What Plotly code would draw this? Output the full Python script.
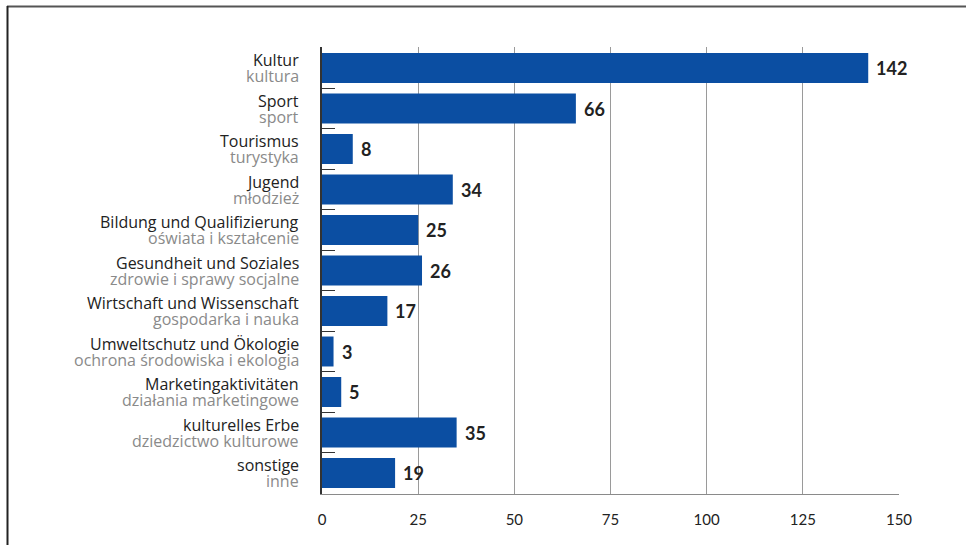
import plotly.graph_objects as go

categories_de = ["Kultur", "Sport", "Tourismus", "Jugend", "Bildung und Qualifizierung",
                 "Gesundheit und Soziales", "Wirtschaft und Wissenschaft",
                 "Umweltschutz und Ökologie", "Marketingaktivitäten",
                 "kulturelles Erbe", "sonstige"]
categories_pl = ["kultura", "sport", "turystyka", "młodzież", "oświata i kształcenie",
                 "zdrowie i sprawy socjalne", "gospodarka i nauka",
                 "ochrona środowiska i ekologia", "działania marketingowe",
                 "dziedzictwo kulturowe", "inne"]
values = [142, 66, 8, 34, 25, 26, 17, 3, 5, 35, 19]
x_ticks = [0, 25, 50, 75, 100, 125, 150]

FONT = "Lato"
LABEL_FONT = "Open Sans"
BLUE = "#0b4ea2"
L, R, T, B = 322, 67, 47, 51
PW, PH = 966 - L - R, 545 - T - B

fig = go.Figure(go.Bar(
    x=values, y=categories_de, orientation="h",
    marker=dict(color=BLUE, line=dict(width=0)),
    hoverinfo="x+y",
))

annotations = []
for de, pl, v in zip(categories_de, categories_pl, values):
    annotations.append(dict(xref="paper", yref="y", x=0, y=de, text=de,
                            xanchor="right", yanchor="middle", xshift=-21, yshift=8,
                            showarrow=False,
                            font=dict(family=LABEL_FONT, size=16, color="#222222")))
    annotations.append(dict(xref="paper", yref="y", x=0, y=de, text=pl,
                            xanchor="right", yanchor="middle", xshift=-21, yshift=-8,
                            showarrow=False,
                            font=dict(family=LABEL_FONT, size=16, color="#8a8a8a")))
    annotations.append(dict(xref="x", yref="y", x=v, y=de, text=str(v),
                            xanchor="left", yanchor="middle", xshift=6, yshift=0,
                            showarrow=False,
                            font=dict(family=FONT, size=18, color="#222222", weight="bold")))

fig.update_layout(
    width=966, height=545,
    margin=dict(l=L, r=R, t=T, b=B),
    paper_bgcolor="white", plot_bgcolor="white",
    bargap=0.26,
    showlegend=False,
    font=dict(family=FONT, color="#222222"),
    xaxis=dict(range=[0, 150], tickvals=x_ticks, ticktext=[str(t) for t in x_ticks],
               showgrid=True, gridcolor="#9a9a9a", gridwidth=1,
               showline=True, linecolor="#8a8a8a", linewidth=1,
               zeroline=False, ticks="", ticklabelstandoff=12,
               tickfont=dict(family=FONT, size=15, color="#222222")),
    yaxis=dict(autorange="reversed", showline=True, linecolor="#333333", linewidth=2,
               ticks="inside", tickson="boundaries", ticklen=13, tickcolor="#333333",
               tickwidth=1, showgrid=False, showticklabels=False),
    annotations=annotations,
    shapes=[
        dict(type="line", xref="paper", yref="paper",
             x0=(7 - L) / PW, x1=(966 - L) / PW,
             y0=(PH + T - 6.5) / PH, y1=(PH + T - 6.5) / PH,
             line=dict(color="#555555", width=2)),
        dict(type="line", xref="paper", yref="paper",
             x0=(7.5 - L) / PW, x1=(7.5 - L) / PW,
             y0=(PH + T - 6) / PH, y1=(PH + T - 545) / PH,
             line=dict(color="#222222", width=2)),
    ],
)

fig.write_html("out.html", config={"displayModeBar": False},
               post_script="document.body.style.margin='0';")
